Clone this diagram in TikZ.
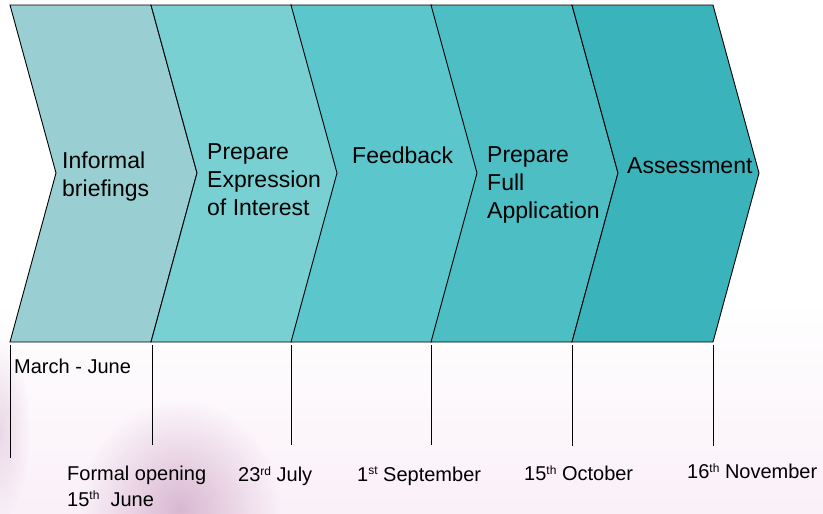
\documentclass[tikz,border=0pt]{standalone}
\usepackage{fontspec}
\setmainfont{Liberation Sans}
\usetikzlibrary{fadings}
\definecolor{cA}{HTML}{99CFD3}
\definecolor{cB}{HTML}{78D0D3}
\definecolor{cC}{HTML}{5BC6CC}
\definecolor{cD}{HTML}{4CBEC4}
\definecolor{cE}{HTML}{3BB3BB}
\definecolor{bgpink}{HTML}{FAF0F8}
\definecolor{mauve}{HTML}{CFA6C6}
\tikzfading[name=softglow, inner color=transparent!25, outer color=transparent!100]
\tikzset{
  chev/.style={draw=black, line width=0.9pt, line join=miter},
  steplabel/.style={anchor=west, inner sep=0pt, align=left, font=\fontsize{23}{28}\selectfont},
  datelabel/.style={anchor=west, inner sep=0pt, align=left, font=\fontsize{20}{26}\selectfont},
  tick/.style={draw=black, line width=0.9pt}
}
\newcommand{\supx}[1]{\raisebox{0.6ex}{\fontsize{12}{12}\selectfont #1}}
\newcommand{\chevron}[2]{% x-left, colour
  \fill[#2] (#1,5) -- ({#1+141},5) -- ({#1+187},173) -- ({#1+141},342) -- (#1,342) -- ({#1+46},173) -- cycle;
  \draw[chev] (#1,5) -- ({#1+141},5) -- ({#1+187},173) -- ({#1+141},342) -- (#1,342) -- ({#1+46},173) -- cycle;
}
\begin{document}
\begin{tikzpicture}[x=1pt,y=-1pt]
\useasboundingbox (0,0) rectangle (823,514);
% background
\fill[white] (0,0) rectangle (823,514);
\shade[top color=white, bottom color=bgpink] (0,300) rectangle (823,514);
\fill[mauve, path fading=softglow] (180,510) ellipse (100 and 110);
\fill[mauve, path fading=softglow, opacity=0.5] (0,430) ellipse (30 and 90);
% chevrons
\chevron{10}{cA}
\chevron{151}{cB}
\chevron{291}{cC}
\chevron{431}{cD}
\chevron{572}{cE}
% step labels
\node[steplabel] (s1) at (62,177) {Informal\\briefings};
\node[steplabel] (s2) at (207,180) {Prepare\\Expression\\of Interest};
\node[steplabel] (s3) at (352,155) {Feedback};
\node[steplabel] (s4) at (487,185) {Prepare\\Full\\Application};
\node[steplabel] (s5) at (627,166) {Assessment};
% ticks
\coordinate (t1a) at (10,345); \coordinate (t1b) at (10,458);
\coordinate (t2a) at (152,345); \coordinate (t2b) at (152,445);
\coordinate (t3a) at (291,345); \coordinate (t3b) at (291,445);
\coordinate (t4a) at (431,345); \coordinate (t4b) at (431,445);
\coordinate (t5a) at (572,345); \coordinate (t5b) at (572,446);
\coordinate (t6a) at (713,345); \coordinate (t6b) at (713,446);
\foreach \i in {1,...,6} { \draw[tick] (t\i a) -- (t\i b); }
% date labels
\node[datelabel] (d1) at (14,366) {March - June};
\node[datelabel] (d2) at (67,486) {Formal opening\\15\supx{th}\ \ June};
\node[datelabel] (d3) at (238,476) {23\supx{rd} July};
\node[datelabel] (d4) at (357,476) {1\supx{st} September};
\node[datelabel] (d5) at (524,473) {15\supx{th} October};
\node[datelabel] (d6) at (687,471) {16\supx{th} November};
\end{tikzpicture}
\end{document}
